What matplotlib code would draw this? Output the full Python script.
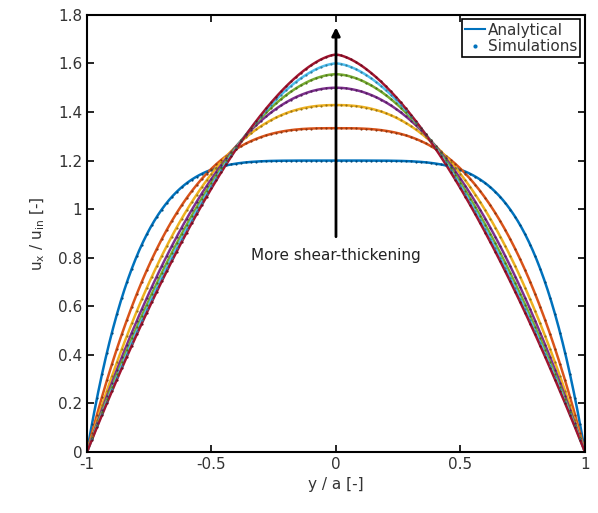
import numpy as np
import matplotlib.pyplot as plt
import matplotlib.colors as mcolors

# flow behaviour indices of the power-law fluid (read from the peak values)
n_index = [0.25, 0.5, 0.75, 1.0, 1.25, 1.5, 1.75]
colors = ['#0072BD', '#D95319', '#EDB120', '#7E2F8E', '#77AC30', '#4DBEEE', '#A2142F']
n_line = 401
n_sim = 101

fig = plt.figure(figsize=(5.98, 5.13), dpi=100)
ax = fig.add_axes([0.1455, 0.119, 0.8327, 0.852])

def profile(y, n):
    # analytical velocity profile, normalised by inlet (mean) velocity
    return (2*n + 1)/(n + 1)*(1 - np.abs(y)**((n + 1)/n))

def darker(c, f=0.65):
    return tuple(np.array(mcolors.to_rgb(c))*f)

yl = np.linspace(-1, 1, n_line)
ys = np.linspace(-1, 1, n_sim)
for n, c in zip(n_index, colors):
    ax.plot(yl, profile(yl, n), color=c, lw=1.8)
for n, c in zip(n_index, colors):
    ax.plot(ys, profile(ys, n), ls='none', marker='.', ms=3.2, color=darker(c),
            markeredgecolor='none')

ax.annotate('', xy=(0, 1.76), xytext=(0, 0.875),
            arrowprops=dict(arrowstyle='-|>', color='k', lw=2, mutation_scale=12))
ax.text(0, 0.81, 'More shear-thickening', ha='center', va='center',
        fontsize=11, color='#222222')

# legend entries
h1, = ax.plot([], [], color=colors[0], lw=1.5)
h2, = ax.plot([], [], ls='none', marker='.', ms=4, color=colors[0])
leg = ax.legend([h1, h2], ['Analytical', 'Simulations'], loc='upper right',
                fontsize=11, fancybox=False, framealpha=1, borderpad=0.2,
                handlelength=1.3, handletextpad=0.2, borderaxespad=0.3,
                labelspacing=0.1)
leg.get_frame().set_edgecolor('k')
leg.get_frame().set_linewidth(1.2)
for t in leg.get_texts():
    t.set_color('#333333')

ax.set_xlim(-1, 1)
ax.set_ylim(0, 1.8)
ax.set_xticks([-1, -0.5, 0, 0.5, 1])
ax.set_xticklabels(['-1', '-0.5', '0', '0.5', '1'])
ax.set_yticks(np.arange(0, 1.81, 0.2))
ax.set_yticklabels(['0', '0.2', '0.4', '0.6', '0.8', '1', '1.2', '1.4', '1.6', '1.8'])
ax.tick_params(direction='in', top=True, right=True, length=5, width=1.2,
               labelsize=11, labelcolor='#333333')
for s in ax.spines.values():
    s.set_linewidth(1.5)
ax.set_xlabel('y / a [-]', fontsize=11, color='#333333')
ax.set_ylabel(r'u$_\mathregular{x}$ / u$_\mathregular{in}$ [-]', fontsize=11,
              color='#333333', labelpad=8)

fig.savefig('out.png', dpi=100)
